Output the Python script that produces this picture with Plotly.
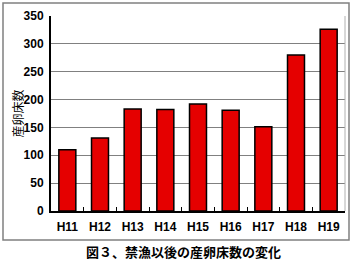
import plotly.graph_objects as go

categories = ["H11", "H12", "H13", "H14", "H15", "H16", "H17", "H18", "H19"]
values = [110, 131, 183, 182, 192, 181, 151, 280, 326]
y_ticks = [0, 50, 100, 150, 200, 250, 300, 350]

fig = go.Figure(go.Bar(
    x=categories, y=values,
    marker=dict(color="#e50000", line=dict(color="black", width=1.5)),
))

W, H = 353, 263
L, R, T, B = 51, 8, 16, 52
pw, ph = W - L - R, H - T - B

def px(x):
    return (x - L) / pw

def py(y):
    return (H - B - y) / ph

fig.update_layout(
    width=W, height=H,
    margin=dict(l=L, r=R, t=T, b=B),
    paper_bgcolor="white", plot_bgcolor="white",
    showlegend=False,
    bargap=0.48,
    font=dict(family="Arial", color="black"),
    xaxis=dict(
        showline=True, linecolor="black", linewidth=2,
        ticks="inside", ticklen=4, tickcolor="black", tickwidth=1,
        tickson="boundaries",
        ticklabelstandoff=4,
        tickfont=dict(family="Arial", size=12, color="black", weight="bold"),
        showgrid=False,
    ),
    yaxis=dict(
        range=[0, 350], tickvals=y_ticks,
        showline=True, linecolor="black", linewidth=2,
        showgrid=True, gridcolor="#808080", gridwidth=1,
        ticks="", zeroline=False,
        ticklabelstandoff=3,
        tickfont=dict(family="Arial", size=12, color="black", weight="bold"),
    ),
    shapes=[
        dict(type="rect", xref="paper", yref="paper",
             x0=px(3), x1=px(349), y0=py(240), y1=py(3),
             line=dict(color="#808080", width=1.5), layer="below"),
        dict(type="line", xref="paper", yref="paper",
             x0=1, x1=1, y0=0, y1=1, line=dict(color="#b0b0b0", width=1)),
    ],
    annotations=[
        dict(text="図３、禁漁以後の産卵床数の変化", xref="paper", yref="paper",
             x=(183 - L) / pw, y=py(251), showarrow=False,
             xanchor="center", yanchor="middle",
             font=dict(family="Noto Sans CJK JP", size=13, color="black", weight="bold")),
        dict(text="産卵床数", xref="paper", yref="paper",
             x=px(17), y=0.5, showarrow=False, textangle=-90,
             xanchor="center", yanchor="middle",
             font=dict(family="Noto Sans CJK JP", size=12, color="black")),
    ],
)

fig.write_html("out.html")
